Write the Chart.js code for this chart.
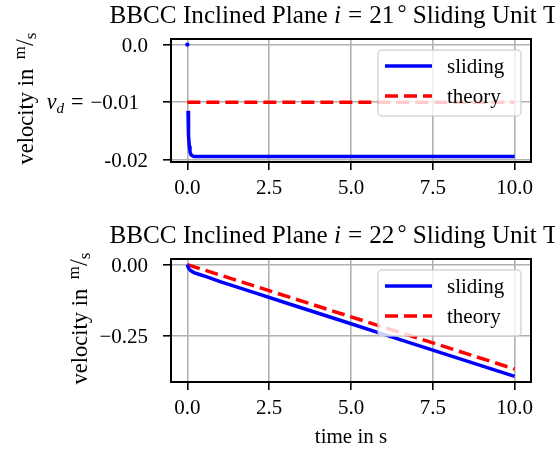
<!DOCTYPE html>
<html>
<head>
<meta charset="utf-8">
<script src="https://cdn.jsdelivr.net/npm/chart.js@4"></script>
<style>
  html, body { margin: 0; padding: 0; background: #fff; }
  #wrap { position: relative; width: 555px; height: 452px; overflow: hidden; }
  canvas { position: absolute; left: 0; }
  #upper { top: 0; }
  #lower { top: 220px; }
</style>
</head>
<body>
<div id="wrap">
  <canvas id="upper" width="555" height="220"></canvas>
  <canvas id="lower" width="555" height="232"></canvas>
</div>
<script>
// shared time axis
const xTicks = [0, 2.5, 5, 7.5, 10];
const xTickLabels = ['0.0', '2.5', '5.0', '7.5', '10.0'];

// i = 21°
const timeUpper = [0, 0.01, 0.02, 0.03, 0.04, 0.06, 0.08, 0.11, 0.15, 0.2, 0.3, 0.5, 1, 2, 3, 4, 5, 6, 7, 8, 9, 10];
const slidingUpper = [0, null, -0.0115, -0.0140, -0.0158, -0.0176, -0.0186, -0.0191, -0.0193, -0.0194, -0.0194, -0.0194,
  -0.0194, -0.0194, -0.0194, -0.0194, -0.0194, -0.0194, -0.0194, -0.0194, -0.0194, -0.0194];
const theoryTimeUpper = [0, 10];
const theoryUpper = [-0.01, -0.01];
const yTicksUpper = [0, -0.01, -0.02];
const yTickLabelsUpper = ['0.0', '', '-0.02'];   // middle one is v_d, drawn by hand

// i = 22°
const timeLower = [0, 0.02, 0.05, 0.1, 0.2, 0.35, 0.6, 1, 2, 3, 4, 5, 6, 7, 8, 9, 10];
const slidingLower = [0, -0.008, -0.015, -0.021, -0.028, -0.034, -0.043, -0.060, -0.097, -0.134, -0.171,
  -0.208, -0.245, -0.282, -0.319, -0.356, -0.393];
const theoryTimeLower = [0, 10];
const theoryLower = [0, -0.367];
const yTicksLower = [0, -0.25];
const yTickLabelsLower = ['0.00', '\u22120.25'];

const SERIF = '"Liberation Serif", "Times New Roman", serif';
const TICK_SIZE = 21;
const LABEL_SIZE = 22.5;
const TITLE_SIZE = 25.2;

function fontOf(r) {
  return (r.italic ? 'italic ' : '') + r.size + 'px ' + SERIF;
}
function runsWidth(ctx, runs) {
  let w = 0;
  runs.forEach(r => { ctx.font = fontOf(r); w += ctx.measureText(r.t).width + (r.gap || 0); });
  return w;
}
function drawRuns(ctx, runs, x, y) {
  runs.forEach(r => {
    ctx.font = fontOf(r);
    ctx.fillText(r.t, x, y + (r.dy || 0));
    x += ctx.measureText(r.t).width + (r.gap || 0);
  });
}

function pairs(xs, ys) {
  return xs.map((x, i) => ({ x: x, y: ys[i] }));
}

// titles, axis labels, frame, legend
const decorations = {
  id: 'decorations',
  afterDatasetsDraw(chart, args, opts) {
    const ctx = chart.ctx;
    const a = chart.chartArea;
    const cx = (a.left + a.right) / 2;
    ctx.save();
    ctx.fillStyle = '#000';
    ctx.textBaseline = 'alphabetic';

    // frame
    ctx.strokeStyle = '#000';
    ctx.lineWidth = 2;
    ctx.strokeRect(a.left, a.top, a.right - a.left, a.bottom - a.top);

    // title (math part spaced like mathtext)
    const ts = TITLE_SIZE;
    const title = [
      { t: 'BBCC Inclined Plane ', size: ts },
      { t: 'i', size: ts, italic: true, gap: 7 },
      { t: '=', size: ts, gap: 7 },
      { t: opts.angle, size: ts, gap: 3 },
      { t: '\u00B0', size: ts * 0.9, dy: -2 },
      { t: ' Sliding Unit Test', size: ts }
    ];
    drawRuns(ctx, title, cx - runsWidth(ctx, title) / 2 - 4, 22.5);

    // y label with m/s
    const ls = LABEL_SIZE;
    const yl = [
      { t: 'velocity in ', size: ls, gap: 4 },
      { t: 'm', size: ls * 0.75, dy: -8 },
      { t: '/', size: ls * 1.1 },
      { t: 's', size: ls * 0.75, dy: 3 }
    ];
    ctx.save();
    ctx.translate(opts.ylabelX, (a.top + a.bottom) / 2 - 2);
    ctx.rotate(-Math.PI / 2);
    drawRuns(ctx, yl, -runsWidth(ctx, yl) / 2, 0);
    ctx.restore();

    // hand drawn v_d tick label
    if (opts.vd !== undefined) {
      const y = chart.scales.y.getPixelForValue(opts.vd) + 7;
      const vd = [
        { t: 'v', size: TICK_SIZE * 1.05, italic: true },
        { t: 'd', size: TICK_SIZE * 0.72, italic: true, dy: 4, gap: 7 },
        { t: '=', size: TICK_SIZE * 1.05, gap: 7 },
        { t: '\u22120.01', size: TICK_SIZE }
      ];
      drawRuns(ctx, vd, 139 - runsWidth(ctx, vd), y);
    }

    // x label
    if (opts.xlabel) {
      ctx.font = TICK_SIZE + 'px ' + SERIF;
      ctx.textAlign = 'center';
      ctx.fillText('time in s', cx, 223);
      ctx.textAlign = 'left';
    }

    // legend
    const lx = a.right - 153, ly = a.top + 11, lw = 143, lh = 66;
    ctx.beginPath();
    ctx.roundRect(lx, ly, lw, lh, 4);
    ctx.fillStyle = 'rgba(255,255,255,0.8)';
    ctx.fill();
    ctx.strokeStyle = 'rgba(204,204,204,0.8)';
    ctx.lineWidth = 1.5;
    ctx.stroke();

    const items = [
      { label: 'sliding', color: '#0000ff', dash: [] },
      { label: 'theory', color: '#ff0000', dash: [13, 6] }
    ];
    items.forEach((it, i) => {
      const yy = ly + 16 + i * 30;
      ctx.beginPath();
      ctx.setLineDash(it.dash);
      ctx.strokeStyle = it.color;
      ctx.lineWidth = 3.5;
      ctx.moveTo(lx + 7, yy);
      ctx.lineTo(lx + 54, yy);
      ctx.stroke();
      ctx.setLineDash([]);
      ctx.fillStyle = '#000';
      ctx.font = TICK_SIZE + 'px ' + SERIF;
      ctx.fillText(it.label, lx + 69, yy + 7);
    });
    ctx.restore();
  }
};

function makeChart(id, cfg) {
  const all = cfg.sliding.concat(cfg.theory).filter(v => v !== null);
  const lo = Math.min(...all), hi = Math.max(...all);
  const pad = (hi - lo) * 0.05;
  const canvas = document.getElementById(id);
  return new Chart(canvas, {
    type: 'line',
    data: {
      datasets: [
        {
          label: 'sliding',
          data: pairs(cfg.time, cfg.sliding),
          borderColor: '#0000ff',
          backgroundColor: '#0000ff',
          borderWidth: 3.5,
          pointRadius: cfg.time.map((t, i) => (i === 0 && cfg.dot ? 2.2 : 0)),
          pointBorderWidth: 0,
          spanGaps: false
        },
        {
          label: 'theory',
          data: pairs(cfg.theoryTime, cfg.theory),
          borderColor: '#ff0000',
          borderWidth: 3.5,
          borderDash: [13, 6],
          pointRadius: 0
        }
      ]
    },
    options: {
      responsive: false,
      animation: false,
      devicePixelRatio: 1,
      layout: { padding: { top: 39, right: 24, left: 0, bottom: 0 } },
      elements: { line: { tension: 0 } },
      scales: {
        x: {
          type: 'linear',
          min: -0.5,
          max: 10.5,
          afterBuildTicks: s => { s.ticks = xTicks.map(v => ({ value: v })); },
          afterFit: s => { s.height = canvas.height - 162; },
          grid: { color: '#b0b0b0', lineWidth: 1.6, tickColor: '#000', tickWidth: 1.6, tickLength: 8 },
          border: { display: false },
          ticks: {
            padding: 6,
            maxRotation: 0,
            color: '#000',
            font: { family: SERIF, size: TICK_SIZE },
            callback: v => xTickLabels[xTicks.indexOf(v)]
          }
        },
        y: {
          type: 'linear',
          min: lo - pad,
          max: hi + pad,
          afterBuildTicks: s => { s.ticks = cfg.yTicks.map(v => ({ value: v })); },
          afterFit: s => { s.width = 171; },
          grid: { color: '#b0b0b0', lineWidth: 1.6, tickColor: '#000', tickWidth: 1.6, tickLength: 8 },
          border: { display: false },
          ticks: {
            padding: 15,
            labelOffset: 2,
            color: '#000',
            font: { family: SERIF, size: TICK_SIZE },
            callback: v => cfg.yTickLabels[cfg.yTicks.indexOf(v)]
          }
        }
      },
      plugins: {
        legend: { display: false },
        tooltip: { enabled: false },
        decorations: cfg.deco
      }
    },
    plugins: [decorations]
  });
}

makeChart('upper', {
  time: timeUpper, sliding: slidingUpper,
  theoryTime: theoryTimeUpper, theory: theoryUpper,
  yTicks: yTicksUpper, yTickLabels: yTickLabelsUpper, dot: true,
  deco: { angle: '21', ylabelX: 33, vd: -0.01, xlabel: false }
});

makeChart('lower', {
  time: timeLower, sliding: slidingLower,
  theoryTime: theoryTimeLower, theory: theoryLower,
  yTicks: yTicksLower, yTickLabels: yTickLabelsLower, dot: false,
  deco: { angle: '22', ylabelX: 87, xlabel: true }
});
</script>
</body>
</html>
